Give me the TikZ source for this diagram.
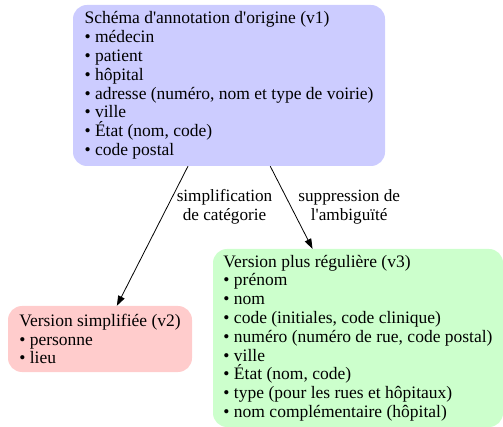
\documentclass[tikz,border=0pt]{standalone}
\usepackage{fontspec}
\setmainfont{Liberation Serif}
\usepackage{tikz}
\usetikzlibrary{
  arrows.meta,
  positioning
}
\definecolor{vonebg}{HTML}{CCCCFF}
\definecolor{vtwobg}{HTML}{FFCCCC}
\definecolor{vthreebg}{HTML}{CCFFCC}
\newcommand{\apos}{\textquotesingle}

\begin{document}
\begin{tikzpicture}[
  x=1pt, y=-1pt,
  schema/.style={
    rectangle, rounded corners=14pt,
    align=left, inner sep=0pt,
    font=\fontsize{17.5}{18.8}\selectfont
  },
  edgelabel/.style={
    align=center, inner sep=0pt,
    font=\fontsize{17.2}{18.8}\selectfont
  },
  flow/.style={
    thick, black, -{Triangle[length=10pt, width=7pt]}
  }
]
\useasboundingbox (0,0) rectangle (503,427);

% ---- Versions ----
\node[schema, fill=vonebg, minimum width=312pt, minimum height=161pt] (v1) at (229,85.5)
  {Schéma d\apos annotation d\apos origine (v1)\\
   • médecin\\
   • patient\\
   • hôpital\\
   • adresse (numéro, nom et type de voirie)\\
   • ville\\
   • État (nom, code)\\
   • code postal};

\node[schema, fill=vtwobg, minimum width=184pt, minimum height=66pt] (v2) at (100,339)
  {Version simplifiée (v2)\\
   • personne\\
   • lieu};

\node[schema, fill=vthreebg, minimum width=290pt, minimum height=178pt] (v3) at (358,338)
  {Version plus régulière (v3)\\
   • prénom\\
   • nom\\
   • code (initiales, code clinique)\\
   • numéro (numéro de rue, code postal)\\
   • ville\\
   • État (nom, code)\\
   • type (pour les rues et hôpitaux)\\
   • nom complémentaire (hôpital)};

% Transformations
\draw[flow] (v1) -- node[edgelabel, pos=0.29, right=9pt] {simplification\\de catégorie} (v2);
\draw[flow] (v1) -- node[edgelabel, pos=0.49, right=7pt] {suppression de\\l\apos ambiguïté} (v3);

\end{tikzpicture}
\end{document}
